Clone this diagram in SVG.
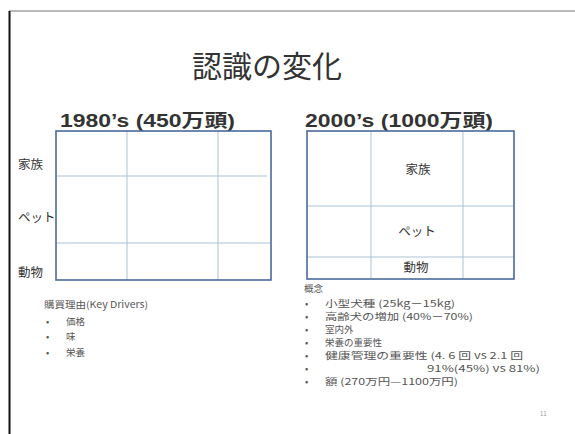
<svg xmlns="http://www.w3.org/2000/svg" width="575" height="434" viewBox="0 0 575 434">
<style>
text{font-family:"Noto Sans CJK JP","Liberation Sans",sans-serif;fill:#222}
.title{font-size:30px;fill:#333}
.head{font-family:"Liberation Sans","Noto Sans CJK JP",sans-serif;font-size:18px;font-weight:bold;fill:#333}
.lbl{font-size:12.5px;fill:#333}
.sm{font-size:9.5px;fill:#555}
.outer{fill:none;stroke:#4a6a9e;stroke-width:1.6}
.inner{stroke:#a9c3d8;stroke-width:1}
</style>
<rect width="575" height="434" fill="#fff"/>
<line x1="9" y1="11" x2="575" y2="11" stroke="#777" stroke-width="1"/>
<line x1="9.5" y1="11" x2="9.5" y2="434" stroke="#111" stroke-width="2"/>
<g id="title"><text class="title" x="267" y="77" text-anchor="middle">認識の変化</text></g>
<g id="table1980">
<text class="head" x="60" y="127" textLength="175" lengthAdjust="spacingAndGlyphs">1980’s (450万頭)</text>
<line class="inner" x1="127" y1="131" x2="127" y2="280"/>
<line class="inner" x1="218" y1="131" x2="218" y2="280"/>
<line class="inner" x1="56" y1="176" x2="267" y2="176"/>
<line class="inner" x1="56" y1="243" x2="271" y2="243"/>
<rect class="outer" x="56" y="131" width="215" height="149"/>
<text class="lbl" x="18" y="169">家族</text>
<text class="lbl" x="18" y="222">ペット</text>
<text class="lbl" x="18" y="277">動物</text>
</g>
<g id="table2000">
<text class="head" x="305" y="127" textLength="188" lengthAdjust="spacingAndGlyphs">2000’s (1000万頭)</text>
<line class="inner" x1="371" y1="131" x2="371" y2="279"/>
<line class="inner" x1="463" y1="131" x2="463" y2="279"/>
<line class="inner" x1="307" y1="206" x2="514" y2="206"/>
<line class="inner" x1="307" y1="257" x2="514" y2="257"/>
<rect class="outer" x="307" y="131" width="207" height="148"/>
<text class="lbl" x="418" y="174" text-anchor="middle">家族</text>
<text class="lbl" x="417" y="236" text-anchor="middle">ペット</text>
<text class="lbl" x="416" y="272" text-anchor="middle">動物</text>
</g>
<g id="drivers">
<text class="sm" x="44" y="308" textLength="104" lengthAdjust="spacingAndGlyphs">購買理由(Key Drivers)</text>
<text class="sm" x="46" y="325">•</text><text class="sm" x="66" y="325">価格</text>
<text class="sm" x="46" y="340">•</text><text class="sm" x="66" y="340">味</text>
<text class="sm" x="46" y="356">•</text><text class="sm" x="66" y="356">栄養</text>
</g>
<g id="concepts">
<text class="sm" x="304" y="292">概念</text>
<text class="sm" x="305" y="307">•</text><text class="sm" x="325" y="307" textLength="130" lengthAdjust="spacingAndGlyphs">小型犬種 (25kg－15kg)</text>
<text class="sm" x="305" y="320">•</text><text class="sm" x="325" y="320" textLength="148" lengthAdjust="spacingAndGlyphs">高齢犬の増加 (40%－70%)</text>
<text class="sm" x="305" y="333">•</text><text class="sm" x="325" y="333">室内外</text>
<text class="sm" x="305" y="346">•</text><text class="sm" x="325" y="346">栄養の重要性</text>
<text class="sm" x="305" y="359">•</text><text class="sm" x="325" y="359" textLength="198" lengthAdjust="spacingAndGlyphs">健康管理の重要性 (4. 6 回 vs 2.1 回</text>
<text class="sm" x="305" y="372">•</text><text class="sm" x="427" y="372" textLength="113" lengthAdjust="spacingAndGlyphs">91%(45%) vs 81%)</text>
<text class="sm" x="305" y="385">•</text><text class="sm" x="325" y="385" textLength="133" lengthAdjust="spacingAndGlyphs">額 (270万円—1100万円)</text>
</g>
<text x="540" y="416" style="font-size:6px;fill:#999">11</text>
</svg>
